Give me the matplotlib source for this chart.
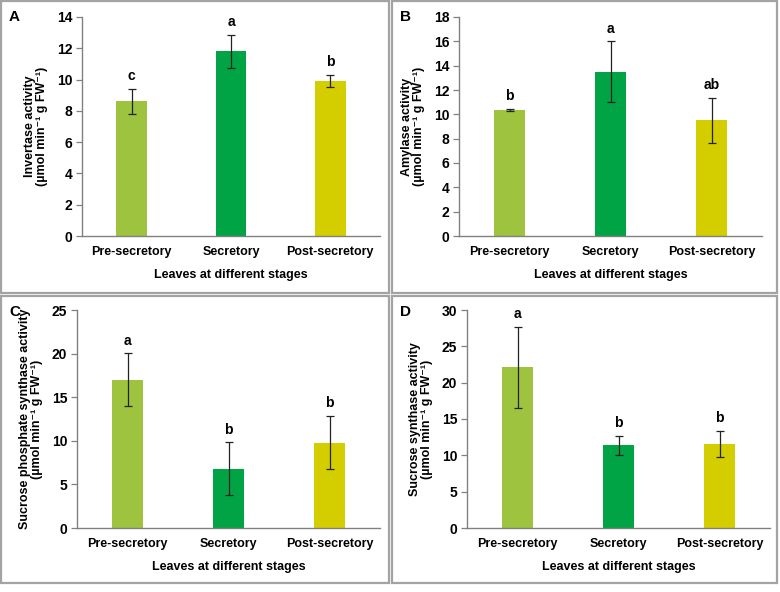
import matplotlib
matplotlib.use("Agg")
import matplotlib.pyplot as plt
from matplotlib.patches import Rectangle

plt.rcParams['font.family'] = ['Liberation Sans', 'DejaVu Sans']
plt.rcParams['font.weight'] = 'bold'

# data
stages = ["Pre-secretory", "Secretory", "Post-secretory"]
colors = ["#9dc33f", "#00a444", "#d4cd00"]

invertase = [8.6, 11.8, 9.9]
invertase_err = [0.8, 1.05, 0.4]
invertase_sig = ["c", "a", "b"]

amylase = [10.35, 13.5, 9.5]
amylase_err = [0.1, 2.5, 1.85]
amylase_sig = ["b", "a", "ab"]

sps = [17.0, 6.8, 9.8]
sps_err = [3.05, 3.05, 3.05]
sps_sig = ["a", "b", "b"]

sus = [22.1, 11.4, 11.6]
sus_err = [5.6, 1.3, 1.8]
sus_sig = ["a", "b", "b"]

W, H = 780, 592
fig = plt.figure(figsize=(W / 100, H / 100), dpi=100)


def px_axes(left, right, top, bottom):
    return fig.add_axes([left / W, 1 - bottom / H, (right - left) / W, (bottom - top) / H])


def frame(x0, y0, x1, y1):
    fig.patches.append(Rectangle((x0 / W, 1 - y1 / H), (x1 - x0) / W, (y1 - y0) / H,
                                 transform=fig.transFigure, fill=False,
                                 edgecolor="#a3a3a3", lw=1.6))


def panel(box, frm, letter, vals, errs, sig, ymax, step, ylabel):
    frame(*frm)
    ax = px_axes(*box)
    x = range(len(stages))
    ax.bar(x, vals, width=0.31, color=colors, zorder=2)
    ax.errorbar(x, vals, yerr=errs, fmt="none", ecolor="#222222", elinewidth=0.9,
                capsize=3, capthick=0.9, zorder=3)
    for xi, v, e, s in zip(x, vals, errs, sig):
        ax.annotate(s, (xi, v + e), xytext=(0, 4), textcoords="offset points",
                    ha="center", va="bottom", fontsize=10, fontweight="bold")
    ax.set_xlim(-0.5, 2.5)
    ax.set_ylim(0, ymax)
    ax.set_yticks(range(0, ymax + 1, step))
    ax.set_xticks(list(x))
    ax.set_xticklabels(stages, fontsize=9, fontweight="bold")
    ax.tick_params(axis="x", length=0, pad=7)
    ax.tick_params(axis="y", length=4, width=0.9, color="#808080", labelsize=10, pad=3)
    for t in ax.get_yticklabels():
        t.set_fontweight("bold")
    for sp in ["top", "right"]:
        ax.spines[sp].set_visible(False)
    for sp in ["left", "bottom"]:
        ax.spines[sp].set_color("#808080")
        ax.spines[sp].set_linewidth(1.0)
    ax.set_xlabel("Leaves at different stages", fontsize=9, fontweight="bold", labelpad=8)
    ax.set_ylabel(ylabel + "\n(µmol min⁻¹ g FW⁻¹)", fontsize=9, fontweight="bold",
                  labelpad=6, linespacing=1.1)
    fig.text((frm[0] + 8) / W, 1 - (frm[1] + 16) / H, letter, fontsize=11,
             fontweight="bold", ha="left", va="center")
    return ax


panel((82, 380, 17, 236), (1, 1, 389, 293), "A", invertase, invertase_err,
      invertase_sig, 14, 2, "Invertase activity")
panel((459, 762, 17, 236), (392, 1, 777, 293), "B", amylase, amylase_err,
      amylase_sig, 18, 2, "Amylase activity")
panel((77, 380, 310, 528), (1, 296, 389, 583), "C", sps, sps_err,
      sps_sig, 25, 5, "Sucrose phosphate synthase activity")
panel((467, 770, 310, 528), (392, 296, 777, 583), "D", sus, sus_err,
      sus_sig, 30, 5, "Sucrose synthase activity")

fig.savefig("out.png", dpi=100)
